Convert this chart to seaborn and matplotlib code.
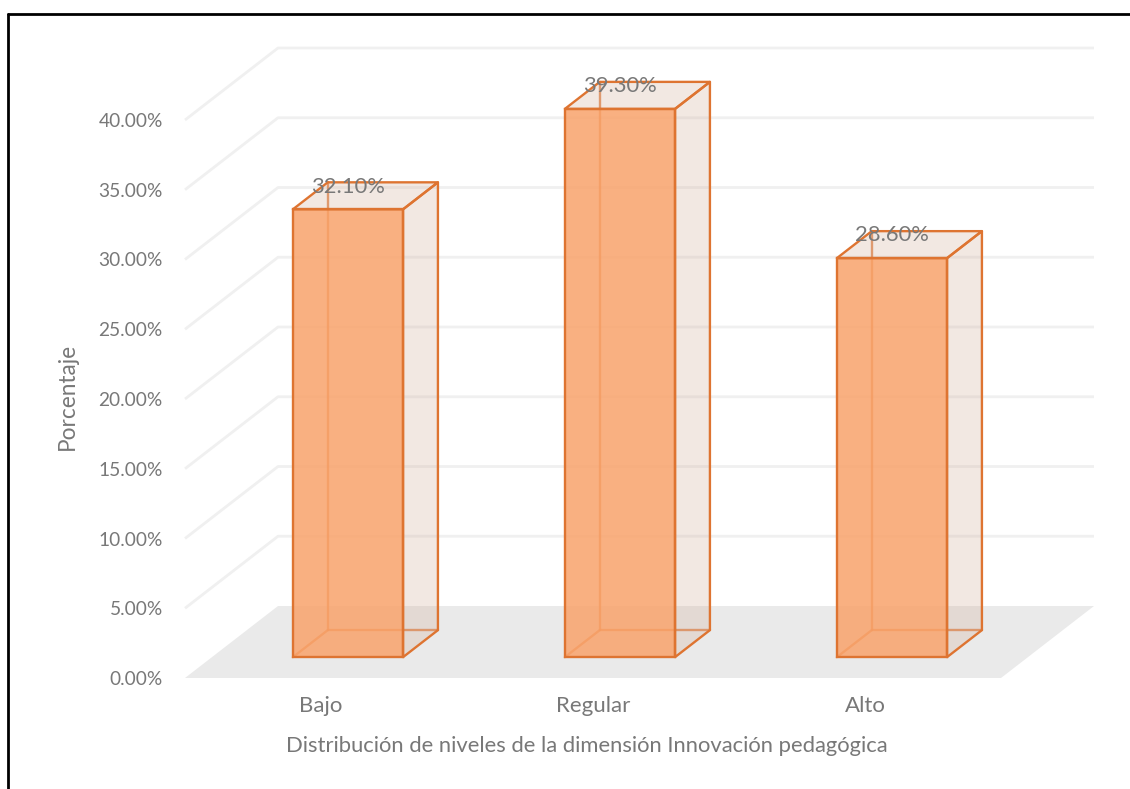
import matplotlib
matplotlib.use("Agg")
import matplotlib.pyplot as plt
import pandas as pd
import seaborn as sns
from matplotlib.patches import Polygon
from matplotlib.lines import Line2D
from matplotlib.transforms import Affine2D

# Data
categories = ["Bajo", "Regular", "Alto"]
percentages = [32.10, 39.30, 28.60]
y_ticks = [0, 5, 10, 15, 20, 25, 30, 35, 40]
y_tick_labels = [f"{t:.2f}%" for t in y_ticks]
x_title = "Distribución de niveles de la dimensión Innovación pedagógica"
y_title = "Porcentaje"

sns.set_theme(style="white")
plt.rcParams["font.family"] = ["Lato", "DejaVu Sans"]

TEXT = "#787878"
EDGE = "#de7431"
FRONT = (0.975, 0.64, 0.42, 0.85)
SIDE = (0.83, 0.70, 0.63, 0.30)
FLOOR = "#eaeaea"
GRID = "#f0f0f0"

W, H = 1130, 789
fig = plt.figure(figsize=(W / 100, H / 100), dpi=100)
ax = fig.add_axes([185 / W, 111 / H, 816 / W, 558 / H])

df = pd.DataFrame({"Nivel": categories, "Porcentaje": percentages})
sns.barplot(data=df, x="Nivel", y="Porcentaje", width=0.405, ax=ax,
            color="#f4a26a", edgecolor=EDGE, linewidth=1.7, zorder=5)
ax.set_xlim(-0.5, 2.5)
ax.set_ylim(0, 40)

# Oblique depth projection (depth 0 = front of floor, 1 = back wall)
DX, DY = 93 / 272, 72 / 13.95
D1, D2 = 0.29, 0.665


def P(x, v, d):
    return (x + d * DX, v + d * DY)


# Floor
x_lo, x_hi = -0.5, 2.5
ax.add_patch(Polygon([P(x_lo, 0, 0), P(x_hi, 0, 0), P(x_hi, 0, 1), P(x_lo, 0, 1)],
                     closed=True, facecolor=FLOOR, edgecolor="none",
                     zorder=1, clip_on=False))

# Side-wall and back-wall gridlines
for t in y_ticks[1:]:
    pts = [P(x_lo, t, 0), P(x_lo, t, 1), P(x_hi, t, 1)]
    ax.add_line(Line2D([p[0] for p in pts], [p[1] for p in pts], color=GRID,
                       lw=2, zorder=1.5, clip_on=False, solid_capstyle="butt"))

# Bars as boxes
shift = Affine2D().translate(D1 * DX, D1 * DY) + ax.transData
for p in list(ax.patches):
    if isinstance(p, Polygon):
        continue
    x0, w, h = p.get_x(), p.get_width(), p.get_height()
    p.set_transform(shift)
    p.set_clip_on(False)
    p.set_facecolor(FRONT)
    p.set_zorder(5)

    # edges hidden behind the front face
    for a, b in [((x0, 0, D1), (x0, 0, D2)),
                 ((x0, 0, D2), (x0 + w, 0, D2)),
                 ((x0, 0, D2), (x0, h, D2))]:
        pa, pb = P(*a), P(*b)
        ax.add_line(Line2D([pa[0], pb[0]], [pa[1], pb[1]], color=EDGE,
                           lw=1.7, alpha=0.8, zorder=3, clip_on=False))

    right = [P(x0 + w, 0, D1), P(x0 + w, h, D1), P(x0 + w, h, D2), P(x0 + w, 0, D2)]
    top = [P(x0, h, D1), P(x0 + w, h, D1), P(x0 + w, h, D2), P(x0, h, D2)]
    for face in (right, top):
        ax.add_patch(Polygon(face, closed=True, facecolor=SIDE, edgecolor="none",
                             zorder=4, clip_on=False))
        ax.add_patch(Polygon(face, closed=True, facecolor="none", edgecolor=EDGE,
                             lw=1.7, zorder=6, clip_on=False, joinstyle="round"))

    cx = x0 + w / 2 + D1 * DX
    ax.text(cx, h + D2 * DY - 0.3, f"{h:.2f}%", ha="center", va="center",
            color=TEXT, fontsize=15.8, zorder=7, clip_on=False)

# Axes cosmetics
for s in ax.spines.values():
    s.set_visible(False)
ax.set_yticks(y_ticks)
ax.set_yticklabels(y_tick_labels)
ax.tick_params(axis="y", length=0, pad=16, labelsize=13.8, labelcolor=TEXT)
ax.tick_params(axis="x", length=0, pad=13, labelsize=16, labelcolor=TEXT)
ax.grid(False)
ax.set_facecolor("none")

ax.set_ylabel(y_title, color=TEXT, fontsize=16.3)
ax.yaxis.set_label_coords(-0.131, 0.504)
ax.set_xlabel(x_title, color=TEXT, fontsize=15.8)
ax.xaxis.set_label_coords(0.493, -0.122)
ax.xaxis.label.set_va("center")

# Chart frame
fig.add_artist(Line2D([8 / W, 8 / W], [0, 1 - 14 / H], transform=fig.transFigure,
                      color="black", lw=2))
fig.add_artist(Line2D([8 / W, 1], [1 - 14 / H, 1 - 14 / H], transform=fig.transFigure,
                      color="black", lw=2))

fig.savefig("out.png", dpi=100, facecolor="white")
